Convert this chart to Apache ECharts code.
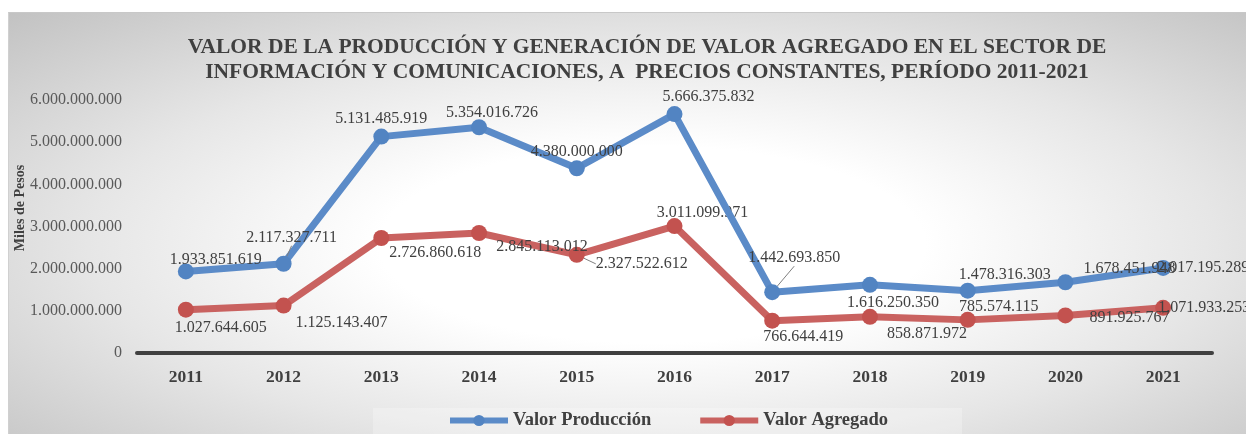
<!DOCTYPE html>
<html lang="es">
<head>
    <meta charset="UTF-8">
    <title>Valor Producción y Valor Agregado</title>
    <script src="https://cdn.jsdelivr.net/npm/echarts@6/dist/echarts.min.js"></script>
    <style>
        html, body { margin: 0; padding: 0; background: #fff; }
        #wrap { position: relative; width: 1246px; height: 434px; overflow: hidden; }
        #bg {
            position: absolute; left: 8px; top: 12px; width: 1238px; height: 422px;
            border-top: 1px solid #c8c8c8; border-left: 1px solid #d0d0d0; box-sizing: border-box;
            background: radial-gradient(ellipse at 52% 55%, #ffffff 0%, #ffffff 30%, #e6e6e6 62%, #c2c2c2 100%);
        }
        #main { position: absolute; left: 0; top: 0; width: 1246px; height: 434px; }
    </style>
</head>
<body>
<div id="wrap">
    <div id="bg"></div>
    <div id="main"></div>
</div>
<script>
    // datos
    const years = ['2011', '2012', '2013', '2014', '2015', '2016', '2017', '2018', '2019', '2020', '2021'];
    const valorProduccion = [1933851619, 2117327711, 5131485919, 5354016726, 4380000000, 5666375832,
        1442693850, 1616250350, 1478316303, 1678451948, 2017195289];
    const valorAgregado = [1027644605, 1125143407, 2726860618, 2845113012, 2327522612, 3011099971,
        766644419, 858871972, 785574115, 891925767, 1071933253];
    const yTicks = [0, 1000000000, 2000000000, 3000000000, 4000000000, 5000000000, 6000000000];

    // desplazamiento de las etiquetas (como en el original de Excel)
    const prodLabelOffset = [[30, -12], [8, -26], [0, -18], [13, -14], [0, -17], [34, -17],
        [22, -34], [23, 18], [37, -16], [64, -13], [40, 0]];
    const agrLabelOffset = [[35, 18], [58, 17], [54, 15], [63, 14], [65, 9], [28, -13],
        [31, 16], [57, 17], [31, -13], [64, 2], [41, 0]];
    // etiquetas con línea guía
    const prodGuide = [1, 6];
    const agrGuide = [4];

    const serif = '"Liberation Serif", "Times New Roman", serif';

    function miles(v) {
        return String(v).replace(/\B(?=(\d{3})+(?!\d))/g, '.');
    }

    function buildData(values, offsets, guides) {
        return values.map((v, i) => ({
            value: v,
            label: { offset: offsets[i] },
            labelLine: {
                show: guides.indexOf(i) >= 0,
                length2: 0,
                lineStyle: { color: '#7f7f7f', width: 1 }
            }
        }));
    }

    const chart = echarts.init(document.getElementById('main'), null, { renderer: 'canvas' });

    const labelStyle = {
        show: true,
        position: 'inside',
        align: 'center',
        verticalAlign: 'middle',
        fontFamily: serif,
        fontSize: 16,
        color: '#404040',
        formatter: (p) => miles(p.value)
    };

    let option = {
        backgroundColor: 'transparent',
        animation: false,
        title: {
            text: 'VALOR DE LA PRODUCCIÓN Y GENERACIÓN DE VALOR AGREGADO EN EL SECTOR DE\nINFORMACIÓN Y COMUNICACIONES, A  PRECIOS CONSTANTES, PERÍODO 2011-2021',
            left: 642,
            top: 30,
            textAlign: 'center',
            textStyle: {
                fontFamily: serif,
                fontSize: 21.5,
                fontWeight: 'bold',
                color: '#404040',
                lineHeight: 25
            }
        },
        graphic: [{
            type: 'text',
            x: 20,
            y: 208,
            rotation: Math.PI / 2,
            style: {
                text: 'Miles de Pesos',
                fontFamily: serif,
                fontSize: 14,
                fontWeight: 'bold',
                fill: '#404040',
                align: 'center',
                verticalAlign: 'middle'
            }
        }],
        legend: {
            top: 408,
            left: 373,
            padding: [3, 74, 12, 74],
            backgroundColor: 'rgba(255,255,255,0.25)',
            itemWidth: 58,
            itemHeight: 14,
            itemGap: 46,
            lineStyle: { width: 6 },
            textStyle: {
                fontFamily: serif,
                fontSize: 18.5,
                fontWeight: 'bold',
                color: '#404040'
            },
            data: ['Valor Producción', 'Valor Agregado']
        },
        grid: {
            left: 137,
            right: 34,
            top: 100,
            bottom: 81,
            containLabel: false
        },
        xAxis: {
            type: 'category',
            data: years,
            boundaryGap: true,
            axisLine: { lineStyle: { color: '#404040', width: 4 } },
            axisTick: { show: false },
            axisLabel: {
                margin: 15,
                fontFamily: serif,
                fontSize: 17.5,
                fontWeight: 'bold',
                color: '#404040'
            }
        },
        yAxis: {
            type: 'value',
            min: yTicks[0],
            max: yTicks[yTicks.length - 1],
            interval: yTicks[1] - yTicks[0],
            splitLine: { show: false },
            axisLine: { show: false },
            axisTick: { show: false },
            axisLabel: {
                margin: 15,
                fontFamily: serif,
                fontSize: 16,
                color: '#595959',
                formatter: (v) => miles(v)
            }
        },
        series: [
            {
                name: 'Valor Producción',
                type: 'line',
                data: buildData(valorProduccion, prodLabelOffset, prodGuide),
                symbol: 'circle',
                symbolSize: 16,
                lineStyle: { color: '#5b8bc8', width: 7 },
                itemStyle: { color: '#5284c2' },
                label: labelStyle,
                z: 3
            },
            {
                name: 'Valor Agregado',
                type: 'line',
                data: buildData(valorAgregado, agrLabelOffset, agrGuide),
                symbol: 'circle',
                symbolSize: 16,
                lineStyle: { color: '#c96260', width: 7 },
                itemStyle: { color: '#c3524f' },
                label: labelStyle,
                z: 2
            }
        ]
    };

    chart.setOption(option);
</script>
</body>
</html>
